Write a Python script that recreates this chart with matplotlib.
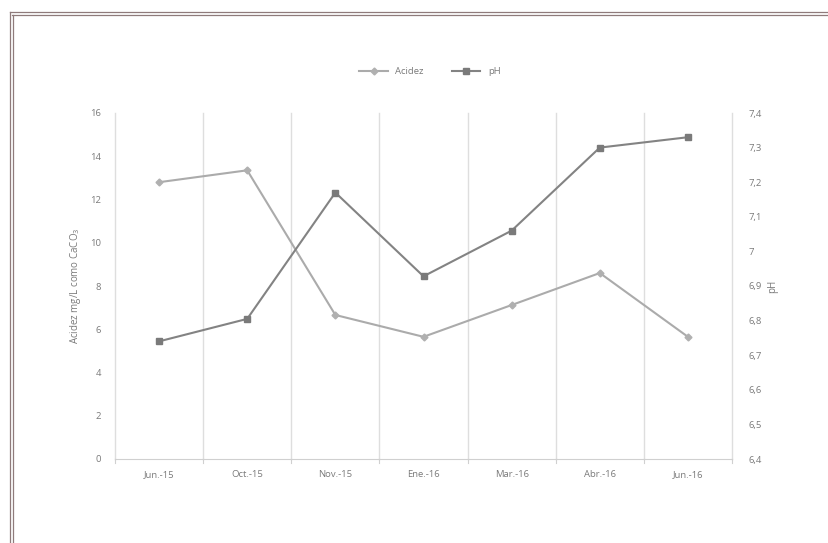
import matplotlib
matplotlib.use("Agg")
import matplotlib.pyplot as plt
from matplotlib.lines import Line2D

meses = ["Jun.-15", "Oct.-15", "Nov.-15", "Ene.-16", "Mar.-16", "Abr.-16", "Jun.-16"]
acidez = [12.8, 13.35, 6.66, 5.65, 7.12, 8.6, 5.65]
ph = [6.74, 6.805, 7.17, 6.928, 7.06, 7.30, 7.33]

acidez_ticks = [0, 2, 4, 6, 8, 10, 12, 14, 16]
ph_ticks = [6.4, 6.5, 6.6, 6.7, 6.8, 6.9, 7.0, 7.1, 7.2, 7.3, 7.4]

plt.rcParams['font.family'] = ['Open Sans', 'DejaVu Sans']
txt = '#7a7a7a'

fig = plt.figure(figsize=(8.29, 5.43), dpi=100)
ax = fig.add_axes([115/829, 1-459/543, 617/829, 346/543])
ax2 = ax.twinx()

x = list(range(len(meses)))
ax.plot(x, acidez, color='#ababab', lw=1.5, marker='D', ms=3.5,
        mfc='#b0b0b0', mec='#b0b0b0', label='Acidez', zorder=3)
ax2.plot(x, ph, color='#838383', lw=1.5, marker='s', ms=5,
         mfc='#7a7a7a', mec='#7a7a7a', label='pH', zorder=3)

ax.set_xlim(-0.5, len(meses) - 0.5)
ax.set_ylim(0, 16)
ax2.set_ylim(6.4, 7.4)
ax.set_yticks(acidez_ticks)
ax2.set_yticks(ph_ticks)
ax2.set_yticklabels([f"{v:g}".replace('.', ',') for v in ph_ticks])
ax.set_xticks(x)
ax.set_xticklabels(meses)

# vertical gridlines between categories, plus the two edges
for b in [i - 0.5 for i in range(len(meses) + 1)]:
    ax.axvline(b, color='#dedede', lw=1.0, zorder=0, clip_on=False)
    ax.plot([b, b], [0, -0.2], color='#d0d0d0', lw=0.8, clip_on=False)

for a in (ax, ax2):
    for s in a.spines.values():
        s.set_visible(False)
    a.tick_params(axis='y', length=0, labelsize=6.8, labelcolor=txt, pad=10)
ax.spines['bottom'].set_visible(True)
ax.spines['bottom'].set_color('#d0d0d0')
ax.tick_params(axis='x', length=0, labelsize=6.8, labelcolor=txt, pad=8)
ax2.tick_params(axis='y', pad=12)

ax.set_ylabel("Acidez mg/L como CaCO$_3$", fontsize=7, color=txt, labelpad=5)
ax2.set_ylabel("pH", fontsize=7, color=txt, labelpad=4)

h1, l1 = ax.get_legend_handles_labels()
h2, l2 = ax2.get_legend_handles_labels()
fig.legend(h1 + h2, l1 + l2, loc='center', bbox_to_anchor=(430/829, 1-72/543),
           ncol=2, frameon=False, fontsize=6.8, labelcolor=txt,
           handlelength=3, columnspacing=3)

# double frame around the picture
bc = '#8f7b7b'
for px in (9.7, 12.7):
    fig.add_artist(Line2D([px/829, px/829], [0, 1-(px+2.6)/543], color=bc, lw=0.9))
for py in (12.3, 14.9):
    fig.add_artist(Line2D([(py-2.6)/829, 1], [1-py/543, 1-py/543], color=bc, lw=0.9))

fig.savefig("out.png", dpi=100)
